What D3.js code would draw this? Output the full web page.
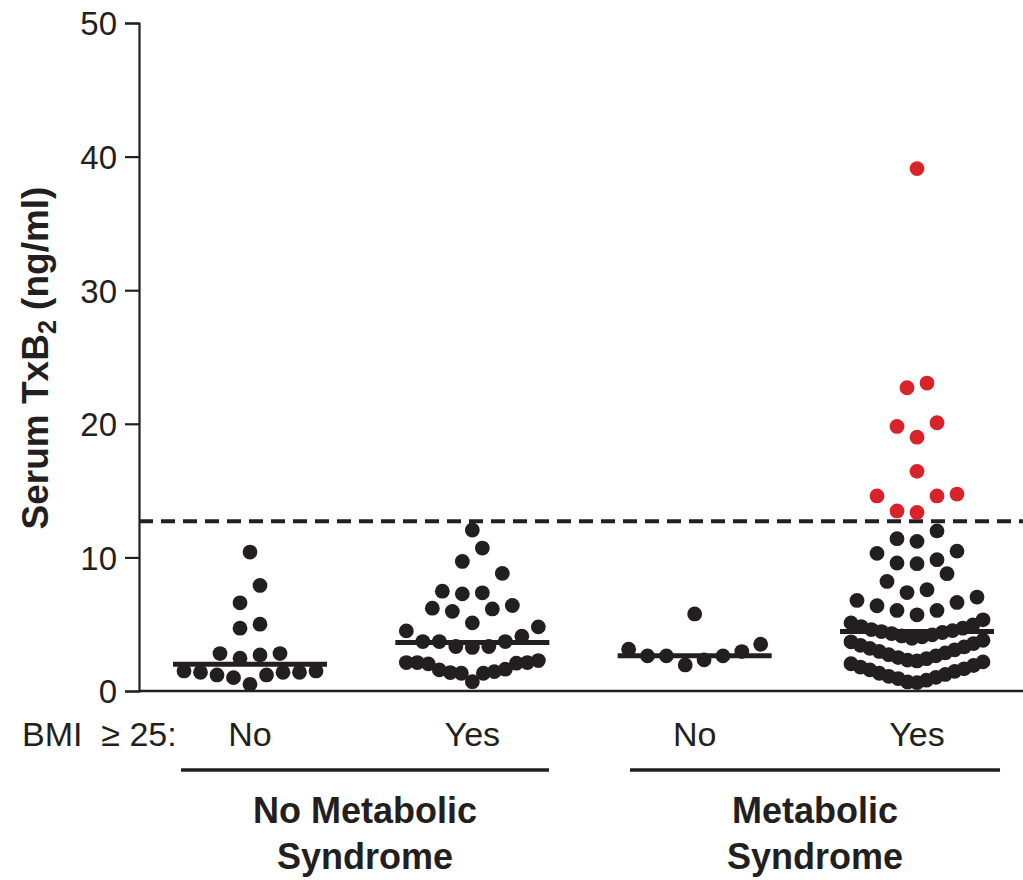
<!DOCTYPE html>
<html>
<head>
<meta charset="utf-8">
<script src="https://cdn.jsdelivr.net/npm/d3@7"></script>
<style>
  body { margin: 0; background: #fff; }
  text { font-family: "Liberation Sans", Arial, Helvetica, sans-serif; fill: #231f20; }
</style>
</head>
<body>
<script>
const WIDTH = 1023;
const HEIGHT = 880;
const INK = '#231f20';
const RED = '#d9232a';

// group keys and labels
var groups = ['noMS_no', 'noMS_yes', 'MS_no', 'MS_yes'];
var bmiLabels = ['No', 'Yes', 'No', 'Yes'];
var yTicks = [0, 10, 20, 30, 40, 50];

// serum TxB2 values (ng/ml)
var noMsNoBmi = [0.5, 1.0, 1.2, 1.2, 1.4, 1.4, 1.4, 1.5, 1.5, 2.45, 2.7, 2.8, 2.8,
    4.7, 5.0, 6.6, 7.9, 10.4];
var noMsYesBmi = [0.7, 1.33, 1.33, 1.38, 1.45, 1.58, 1.63, 2.03, 2.08, 2.13, 2.13, 2.13, 2.28,
    3.26, 3.33, 3.33, 3.7, 3.7, 3.7, 4.1, 4.5, 4.8, 5.1, 5.96, 6.14, 6.2, 6.4,
    7.27, 7.35, 7.47, 8.8, 9.7, 10.7, 12.05];
var msNoBmi = [1.95, 2.33, 2.63, 2.63, 2.63, 2.95, 3.13, 3.5, 5.77];
var msYesBmi = [0.62, 0.68, 0.81, 0.93, 1.02, 1.1, 1.24, 1.33, 1.47, 1.58, 1.66, 1.79, 1.91, 2.04, 2.18,
    2.25, 2.31, 2.42, 2.5, 2.63, 2.72, 2.85, 2.96, 3.08, 3.19, 3.3, 3.42, 3.55, 3.68, 3.8,
    3.95, 4.05, 4.12, 4.2, 4.3, 4.38, 4.45, 4.52, 4.6, 4.7, 4.82, 4.95, 5.1, 5.33,
    5.7, 6.03, 6.03, 6.38, 6.63, 6.78, 7.03, 7.37, 7.58, 8.2, 8.78, 9.53, 9.58, 9.83,
    10.3, 10.47, 11.2, 11.4, 11.98,
    13.36, 13.48, 14.6, 14.6, 14.74, 16.44, 19.0, 19.8, 20.08, 22.7, 23.05, 39.1];
var seriesValues = [noMsNoBmi, noMsYesBmi, msNoBmi, msYesBmi];
var medians = [2.0, 3.63, 2.63, 4.45];
var threshold = 12.7;

var svg = d3.select('body').append('svg')
    .attr('width', WIDTH)
    .attr('height', HEIGHT);

var yScale = d3.scaleLinear().domain([0, 50]).range([691, 23]);
var xScale = d3.scalePoint().domain(groups).range([250, 917]);

// prism-like column scatter: values binned into rows, spread centre-out
var binSize = 1.6, maxSpread = 132, step = 20;
var layout = function(values, cx) {
    var sorted = values.slice().sort(d3.ascending);
    var rows = [];
    sorted.forEach(function(v) {
        var row = rows[rows.length - 1];
        if (!row || v - row[0] > binSize) rows.push([v]);
        else row.push(v);
    });
    var pts = [];
    rows.forEach(function(row) {
        var n = row.length;
        var sp = n > 1 ? Math.min(step, maxSpread / (n - 1)) : 0;
        row.forEach(function(v, i) {
            var slot;
            if (n % 2) slot = i === 0 ? 0 : Math.ceil(i / 2) * (i % 2 ? -1 : 1);
            else slot = (Math.floor(i / 2) + 0.5) * (i % 2 ? 1 : -1);
            pts.push({ x: cx + slot * sp, v: v });
        });
    });
    return pts;
};

var yAxis = svg.append('g')
    .attr('transform', 'translate(139,0)')
    .call(d3.axisLeft(yScale).tickValues(yTicks).tickSize(14).tickPadding(8));
yAxis.select('.domain').attr('stroke', INK).attr('stroke-width', 2.2);
yAxis.selectAll('.tick line').attr('stroke', INK).attr('stroke-width', 2.2);
yAxis.selectAll('.tick text')
    .style('font-size', '33px')
    .attr('fill', INK)
    .attr('dy', '0.36em');

svg.append('line')
    .attr('x1', 139).attr('x2', WIDTH)
    .attr('y1', yScale(0)).attr('y2', yScale(0))
    .attr('stroke', INK).attr('stroke-width', 2.5);

svg.append('line')
    .attr('x1', 139).attr('x2', WIDTH)
    .attr('y1', yScale(threshold)).attr('y2', yScale(threshold))
    .attr('stroke', INK).attr('stroke-width', 4)
    .attr('stroke-dasharray', '14,8');

groups.forEach(function(g, gi) {
    var cx = xScale(g);
    var pts = layout(seriesValues[gi], cx);
    svg.append('g').selectAll('circle')
        .data(pts)
        .enter()
        .append('circle')
        .attr('cx', function(d) { return d.x; })
        .attr('cy', function(d) { return yScale(d.v); })
        .attr('r', 7.4)
        .attr('fill', function(d) { return d.v > threshold ? RED : INK; });

    svg.append('line')
        .attr('x1', cx - 77).attr('x2', cx + 77)
        .attr('y1', yScale(medians[gi])).attr('y2', yScale(medians[gi]))
        .attr('stroke', INK).attr('stroke-width', 5);

    svg.append('text')
        .attr('x', cx).attr('y', 746)
        .attr('text-anchor', 'middle')
        .style('font-size', '34px')
        .text(bmiLabels[gi]);
});

svg.append('text')
    .attr('x', 22).attr('y', 746)
    .style('font-size', '34px')
    .style('white-space', 'pre')
    .text('BMI \u00a0\u2265 25:');

// y axis title
var title = svg.append('text')
    .attr('transform', 'translate(48,358) rotate(-90)')
    .attr('text-anchor', 'middle')
    .style('font-size', '37px')
    .style('font-weight', 'bold');
title.append('tspan').text('Serum TxB');
title.append('tspan').attr('dy', 8).style('font-size', '25px').text('2');
title.append('tspan').attr('dy', -8).text(' (ng/ml)');

// category brackets
var cats = [
    { x1: 181, x2: 549, lines: ['No Metabolic', 'Syndrome'] },
    { x1: 630, x2: 1000, lines: ['Metabolic', 'Syndrome'] }
];
cats.forEach(function(c) {
    svg.append('line')
        .attr('x1', c.x1).attr('x2', c.x2)
        .attr('y1', 770).attr('y2', 770)
        .attr('stroke', INK).attr('stroke-width', 3.5);
    c.lines.forEach(function(t, i) {
        svg.append('text')
            .attr('x', (c.x1 + c.x2) / 2)
            .attr('y', 823 + i * 46)
            .attr('text-anchor', 'middle')
            .style('font-size', '36px')
            .style('font-weight', 'bold')
            .text(t);
    });
});
</script>
</body>
</html>
